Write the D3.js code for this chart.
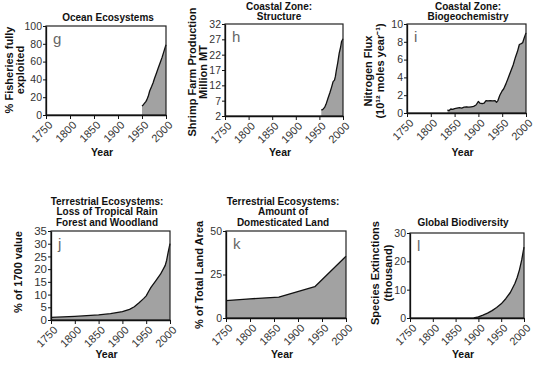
<!DOCTYPE html>
<html><head><meta charset="utf-8">
<script src="https://cdn.jsdelivr.net/npm/d3@7"></script>
<style>
body{margin:0;background:#fff}
svg{display:block}
text{font-family:"Liberation Sans",Arial,Helvetica,sans-serif}
</style>
</head><body>
<svg id="chart" width="540" height="379"></svg>
<script>
// Shared x axis ticks (years)
const yearTicks = [1750, 1800, 1850, 1900, 1950, 2000];

// g: % of fisheries fully exploited
const fisheriesYears = [1950,1952,1955,1958,1960,1963,1966,1970,1973,1976,1980,1984,1988,1992,1996,2000];
const fisheriesPct   = [10,11,13,15,17,21,27,32,36,41,47,53,59,65,72,79];
const fisheriesTicks = [0,20,40,60,80,100];

// h: shrimp farm production (million MT)
const shrimpYears = [1954,1956,1958,1961,1964,1968,1972,1976,1979,1982,1984,1986,1989,1992,1995,1997,2000];
const shrimpProd  = [4.1,4.0,4.3,4.8,5.8,7.7,9.5,11.5,13.2,13.7,15,17,19.5,22.5,24.5,26.3,27.2];
const shrimpTicks = [2,7,12,17,22,27,32];

// i: nitrogen flux (10^12 moles per year)
const nitrogenYears = [1835,1838,1842,1846,1850,1855,1860,1865,1870,1875,1880,1885,1890,1895,1900,1903,1908,1912,1916,1920,1925,1930,1935,1938,1941,1945,1950,1953,1958,1963,1968,1973,1978,1982,1986,1990,1993,1996,2000];
const nitrogenFlux  = [0.35,0.25,0.45,0.4,0.5,0.55,0.6,0.55,0.65,0.7,0.65,0.7,0.75,0.9,1.3,1.1,1.05,1.1,1.4,1.35,1.4,1.35,1.4,1.2,1.4,2.0,2.5,2.7,3.3,4.0,4.7,5.4,6.3,6.9,7.7,7.8,7.9,8.4,9.0];
const nitrogenTicks = [0,2,4,6,8,10];

// j: loss of tropical rain forest and woodland (% of 1700 value)
const forestYears = [1750,1775,1800,1825,1850,1875,1900,1915,1925,1935,1945,1950,1955,1960,1970,1980,1990,1993,1996,2000];
const forestLoss  = [1.0,1.2,1.4,1.7,2.0,2.5,3.3,4.2,5.2,6.8,8.5,9.5,11.2,12.8,15.4,18,21.5,23.5,26.5,30];
const forestTicks = [0,5,10,15,20,25,30,35];

// k: domesticated land (% of total land area)
const landYears = [1750,1800,1860,1935,2000];
const landPct   = [10,11,12,18,35.5];
const landTicks = [0,25,50];

// l: species extinctions (thousand)
const extinctYears = [1890,1900,1910,1920,1930,1940,1950,1960,1970,1980,1985,1990,1995,2000];
const extinctions  = [0,0.4,1.0,1.7,2.6,3.7,5.0,6.8,9.0,12.2,14.3,17,20.5,25];
const extinctTicks = [0,10,20,30];

const panels = [
  { letter:"g", years:fisheriesYears, values:fisheriesPct, ticks:fisheriesTicks,
    box:[46,166,26,115], title:["Ocean Ecosystems"], titleX:108, titleY:17,
    ylab:["% Fisheries fully","exploited"], ylabX:[9,20], ylabY:70, yearY:152, tickFont:10.5 },
  { letter:"h", years:shrimpYears, values:shrimpProd, ticks:shrimpTicks,
    box:[225,343,24,116], title:["Coastal Zone:","Structure"], titleX:279, titleY:6,
    ylab:["Shrimp Farm Production","Million MT"], ylabX:[192,203], ylabY:72, yearY:152, tickFont:10.5 },
  { letter:"i", years:nitrogenYears, values:nitrogenFlux, ticks:nitrogenTicks,
    box:[407,526,24,113], title:["Coastal Zone:","Biogeochemistry"], titleX:468, titleY:6,
    ylab:["Nitrogen Flux","(10¹² moles year⁻¹)"], ylabX:[368,380], ylabY:71, yearY:152, tickFont:10.5 },
  { letter:"j", years:forestYears, values:forestLoss, ticks:forestTicks,
    box:[51,170,231,320], title:["Terrestrial Ecosystems:","Loss of Tropical Rain","Forest and Woodland"], titleX:107, titleY:201,
    ylab:["% of 1700 value"], ylabX:[18], ylabY:272, yearY:354, tickFont:11.5 },
  { letter:"k", years:landYears, values:landPct, ticks:landTicks,
    box:[226,346,231,318], title:["Terrestrial Ecosystems:","Amount of","Domesticated Land"], titleX:283, titleY:201,
    ylab:["% of Total Land Area"], ylabX:[199], ylabY:275, yearY:354, tickFont:10.5 },
  { letter:"l", years:extinctYears, values:extinctions, ticks:extinctTicks,
    box:[410,524,233,318], title:["Global Biodiversity"], titleX:463, titleY:222,
    ylab:["Species Extinctions","(thousand)"], ylabX:[375,388], ylabY:273, yearY:354, tickFont:10.5 }
];

const svg = d3.select("#chart");

panels.forEach(p => {
  const [x0, x1, y0, y1] = p.box;
  const x = d3.scaleLinear().domain([1750, 2000]).range([x0, x1]);
  const y = d3.scaleLinear().domain(d3.extent(p.ticks)).range([y1, y0]);
  const pts = p.years.map((yr, i) => [yr, p.values[i]]);
  const g = svg.append("g");

  // filled area under the series
  g.append("path")
    .datum(pts)
    .attr("fill", "#a2a2a2")
    .attr("d", d3.area().x(d => x(d[0])).y0(y(p.ticks[0])).y1(d => y(d[1])));
  g.append("path")
    .datum(pts)
    .attr("fill", "none")
    .attr("stroke", "#111")
    .attr("stroke-width", 1.3)
    .attr("stroke-linejoin", "round")
    .attr("d", d3.line().x(d => x(d[0])).y(d => y(d[1])));

  // plot frame
  g.append("rect")
    .attr("x", x0).attr("y", y0)
    .attr("width", x1 - x0).attr("height", y1 - y0)
    .attr("fill", "none").attr("stroke", "#222").attr("stroke-width", 1.2);

  // x axis with slanted year labels
  const xa = g.append("g").attr("transform", `translate(0,${y1})`)
    .call(d3.axisBottom(x).tickValues(yearTicks).tickFormat(d3.format("d")).tickSize(4).tickSizeOuter(0));
  xa.select(".domain").attr("stroke", "#111").attr("stroke-width", 1.3);
  xa.selectAll(".tick line").attr("stroke", "#111");
  xa.selectAll(".tick text")
    .attr("font-size", 11).attr("fill", "#333")
    .attr("text-anchor", "end")
    .attr("x", 0).attr("y", 0).attr("dy", "0.35em")
    .attr("transform", "translate(4,8) rotate(-45)");

  // y axis
  const ya = g.append("g").attr("transform", `translate(${x0},0)`)
    .call(d3.axisLeft(y).tickValues(p.ticks).tickFormat(d3.format("d")).tickSize(3).tickSizeOuter(0));
  ya.select(".domain").attr("stroke", "#111").attr("stroke-width", 1.3);
  ya.selectAll(".tick line").attr("stroke", "#111");
  ya.selectAll(".tick text").attr("font-size", p.tickFont).attr("fill", "#333").attr("x", -4);

  // title
  p.title.forEach((t, i) => {
    g.append("text").attr("x", p.titleX).attr("y", p.titleY + i * 10.5)
      .attr("dy", "0.35em").attr("text-anchor", "middle")
      .attr("font-size", 10).attr("font-weight", "bold").attr("fill", "#111").text(t);
  });

  // y axis title
  p.ylab.forEach((t, i) => {
    g.append("text")
      .attr("transform", `translate(${p.ylabX[i]},${p.ylabY}) rotate(-90)`)
      .attr("dy", "0.35em").attr("text-anchor", "middle")
      .attr("font-size", 11).attr("font-weight", "bold").attr("fill", "#111").text(t);
  });

  // x axis title
  g.append("text").attr("x", (x0 + x1) / 2 - 4).attr("y", p.yearY)
    .attr("dy", "0.35em").attr("text-anchor", "middle")
    .attr("font-size", 10.5).attr("font-weight", "bold").attr("fill", "#111").text("Year");

  // panel letter
  g.append("text").attr("x", x0 + 7).attr("y", y0 + 18)
    .attr("font-family", "'Liberation Sans Narrow','Arial Narrow',sans-serif")
    .attr("font-size", 15).attr("fill", "#666").text(p.letter);
});
</script>
</body></html>
